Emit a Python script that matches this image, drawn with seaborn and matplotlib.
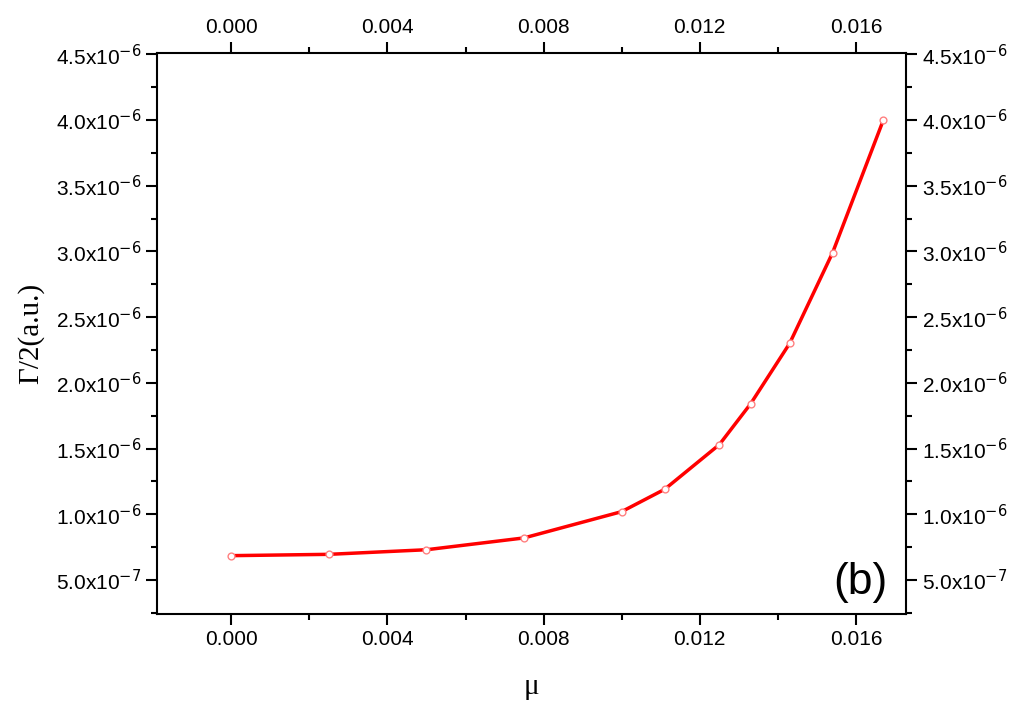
import numpy as np
import pandas as pd
import seaborn as sns
import matplotlib
matplotlib.use("Agg")
import matplotlib.pyplot as plt
from matplotlib.ticker import FixedLocator, MultipleLocator

mu = [0.0, 0.0025, 0.005, 0.0075, 0.010, 0.0111, 0.0125, 0.0133, 0.0143, 0.0154, 0.0167]
gamma = [6.85e-7, 6.95e-7, 7.3e-7, 8.2e-7, 1.02e-6, 1.19e-6, 1.53e-6, 1.84e-6, 2.30e-6, 2.99e-6, 4.0e-6]
xticks = [0.000, 0.004, 0.008, 0.012, 0.016]
yticks = [5e-7, 1e-6, 1.5e-6, 2e-6, 2.5e-6, 3e-6, 3.5e-6, 4e-6, 4.5e-6]
ylabels = [r"5.0x10$^{-7}$"] + [r"%.1fx10$^{-6}$" % (v * 1e6) for v in yticks[1:]]

sns.set_style("ticks")
plt.rcParams['font.family'] = ['Arial', 'Liberation Sans', 'DejaVu Sans']
plt.rcParams['text.color'] = 'black'
plt.rcParams['axes.labelcolor'] = 'black'
plt.rcParams['xtick.color'] = 'black'
plt.rcParams['ytick.color'] = 'black'
plt.rcParams['axes.edgecolor'] = 'black'
df = pd.DataFrame({"mu": mu, "g": gamma})

fig = plt.figure(figsize=(10.24, 7.22), dpi=100)
ax = fig.add_axes([157/1024, 1-614/722, 749/1024, 561/722])
sns.lineplot(data=df, x="mu", y="g", ax=ax, color="red", lw=2.5)
sns.scatterplot(data=df, x="mu", y="g", ax=ax, s=24, facecolor="white",
                edgecolor="#ff8080", linewidth=1, zorder=5)
ax.set_xlim(-0.0019, 0.01728)
ax.set_ylim(0.241e-6, 4.51e-6)
ax.xaxis.set_major_locator(FixedLocator(xticks))
ax.xaxis.set_minor_locator(MultipleLocator(0.002))
ax.yaxis.set_major_locator(FixedLocator(yticks))
ax.yaxis.set_minor_locator(MultipleLocator(0.25e-6))
ax.set_xticklabels(["%.3f" % v for v in xticks])
ax.set_yticklabels(ylabels)
ax.tick_params(which="both", direction="out", top=True, right=True,
               labeltop=True, labelright=True, labelsize=15, width=1.5)
ax.tick_params(which="major", length=8)
ax.tick_params(which="minor", length=4)
for s in ax.spines.values():
    s.set_linewidth(1.5)
ax.set_xlabel("μ", fontsize=21, family=['Liberation Serif'], labelpad=18)
ax.set_ylabel("Γ/2(a.u.)", fontsize=21, family=['Liberation Serif'], labelpad=8)
ax.text(0.975, 0.02, "(b)", transform=ax.transAxes, fontsize=32, ha="right", va="bottom")
fig.savefig("out.png", dpi=100)
